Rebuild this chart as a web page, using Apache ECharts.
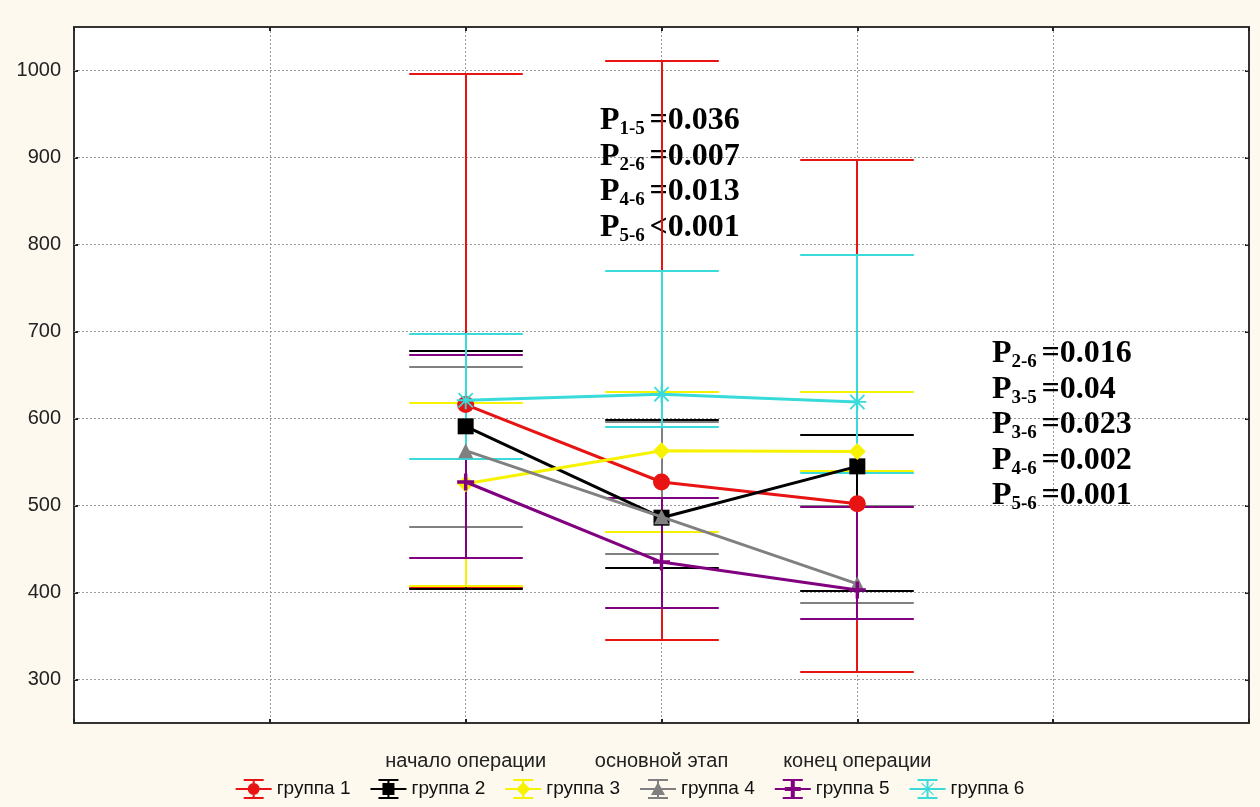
<!DOCTYPE html>
<html>
<head>
<meta charset="utf-8">
<style>
  html, body { margin: 0; padding: 0; background: #fdf9ee; }
  #chart { width: 1260px; height: 807px; }
</style>
<script src="https://cdn.jsdelivr.net/npm/echarts@6/dist/echarts.min.js"></script>
</head>
<body>
<div id="chart"></div>
<script>
// Stages of the operation (x positions 1..3) and groups
const stages = ['начало операции', 'основной этап', 'конец операции'];
const stageX = [1, 2, 3];
const groups = ['группа 1', 'группа 2', 'группа 3', 'группа 4', 'группа 5', 'группа 6'];
const yTicks = [300, 400, 500, 600, 700, 800, 900, 1000];

// Central values per group
const mean1 = [616, 527, 502];
const mean2 = [591, 486, 545];
const mean3 = [525, 563, 562];
const mean4 = [563, 487, 410];
const mean5 = [527, 435, 403];
const mean6 = [621, 628, 619];

// Upper whisker per group
const high1 = [996, 1011, 897];
const high2 = [678, 598, 581];
const high3 = [618, 630, 630];
const high4 = [659, 596, 499];
const high5 = [673, 509, 498];
const high6 = [697, 770, 788];

// Lower whisker per group
const low1 = [405, 345, 309];
const low2 = [404, 428, 402];
const low3 = [407, 470, 540];
const low4 = [475, 444, 388];
const low5 = [440, 382, 370];
const low6 = [553, 590, 537];

// Significance notes
const notesMid = [['1-5', '=0.036'], ['2-6', '=0.007'], ['4-6', '=0.013'], ['5-6', '<0.001']];
const notesEnd = [['2-6', '=0.016'], ['3-5', '=0.04'], ['3-6', '=0.023'], ['4-6', '=0.002'], ['5-6', '=0.001']];

const means = [mean1, mean2, mean3, mean4, mean5, mean6];
const highs = [high1, high2, high3, high4, high5, high6];
const lows = [low1, low2, low3, low4, low5, low6];
const colors = ['#e81414', '#000000', '#f6f200', '#808080', '#800080', '#38dada'];

const plusPath = 'path://M4,0H6V4H10V6H6V10H4V6H0V4H4Z';
const starPath = 'path://M9,0H11V20H9Z M0,9H20V11H0Z M1.4,2.8L2.8,1.4L18.6,17.2L17.2,18.6Z M17.2,1.4L18.6,2.8L2.8,18.6L1.4,17.2Z';
const symbols = ['circle', 'rect', 'diamond', 'triangle', plusPath, starPath];
const symbolSizes = [17, 16, 17, 15, 17, 18];

// legend glyphs: mean line, whisker with caps, and the group marker (36 x 20 box)
const iconBase = 'M0,9H36V11H0Z M8,0H28V2H8Z M8,18H28V20H8Z M17,0H19V20H17Z ';
const legendIcons = [
  'path://' + iconBase + 'M12,10A6,6 0 1,1 24,10A6,6 0 1,1 12,10Z',
  'path://' + iconBase + 'M12,4H24V16H12Z',
  'path://' + iconBase + 'M18,3L25,10L18,17L11,10Z',
  'path://' + iconBase + 'M18,3L25,16L11,16Z',
  'path://' + iconBase + 'M16,1H20V19H16Z M10,8H26V12H10Z',
  'path://' + iconBase + 'M11.7,4.5L12.5,3.7L24.3,15.5L23.5,16.3Z M23.5,3.7L24.3,4.5L12.5,16.3L11.7,15.5Z'
];

const FONT = '"Liberation Sans", Arial, sans-serif';

function errorBarItem(color) {
  return function (params, api) {
    const x = api.value(0);
    const pLo = api.coord([x, api.value(1)]);
    const pHi = api.coord([x, api.value(2)]);
    const cx = Math.round(pLo[0]);
    const yLo = Math.round(pLo[1]);
    const yHi = Math.round(pHi[1]);
    const hw = api.size([0.29, 0])[0];
    const st = { stroke: color, lineWidth: 2 };
    return {
      type: 'group',
      children: [
        { type: 'line', shape: { x1: cx, y1: yLo, x2: cx, y2: yHi }, style: { stroke: color, lineWidth: 2 } },
        { type: 'line', shape: { x1: cx - hw, y1: yHi, x2: cx + hw, y2: yHi }, style: st },
        { type: 'line', shape: { x1: cx - hw, y1: yLo, x2: cx + hw, y2: yLo }, style: st }
      ]
    };
  };
}

const series = [];

// dotted horizontal grid
series.push({
  type: 'custom',
  name: 'grid',
  silent: true,
  z: 1,
  data: yTicks.map(v => [0, v]),
  renderItem: function (params, api) {
    const v = api.value(1);
    const a = api.coord([-1, v]);
    const b = api.coord([5, v]);
    return { type: 'line', shape: { x1: a[0], y1: a[1], x2: b[0], y2: b[1] },
      style: { stroke: '#9a9a9a', lineWidth: 1, lineDash: [2, 2] } };
  }
});

groups.forEach((g, k) => {
  series.push({
    type: 'custom',
    name: g + ' ',
    z: 3,
    silent: true,
    data: stageX.map((x, i) => [x, lows[k][i], highs[k][i]]),
    encode: { x: 0, y: [1, 2] },
    renderItem: errorBarItem(colors[k])
  });
});

groups.forEach((g, k) => {
  series.push({
    type: 'line',
    name: g,
    z: 4 + k,
    data: stageX.map((x, i) => [x, means[k][i]]),
    symbol: symbols[k],
    symbolSize: symbolSizes[k],
    showAllSymbol: true,
    lineStyle: { color: colors[k], width: 3 },
    itemStyle: { color: colors[k] }
  });
});

function noteText(rows) {
  return rows.map(r => '{p|P}{s|' + r[0] + ' }{p|' + r[1] + '}').join('\n');
}
const rich = {
  p: { fontFamily: '"Liberation Serif", "Times New Roman", serif', fontWeight: 'bold', fontSize: 32, lineHeight: 35.5, fill: '#000' },
  s: { fontFamily: '"Liberation Serif", "Times New Roman", serif', fontWeight: 'bold', fontSize: 19, lineHeight: 17, verticalAlign: 'bottom', fill: '#000' }
};

const option = {
  backgroundColor: '#fdf9ee',
  animation: false,
  grid: { left: 74, top: 27, right: 11, bottom: 84, show: true, backgroundColor: '#ffffff', borderColor: '#333', borderWidth: 2 },
  xAxis: [
    {
      type: 'value', min: -1, max: 5, interval: 1, position: 'bottom',
      axisLine: { show: true, onZero: false, lineStyle: { color: '#333', width: 2 } },
      axisTick: { show: true, inside: true, length: 4, lineStyle: { color: '#222', width: 2 } },
      axisLabel: { formatter: v => stages[v - 1] || '', fontSize: 20, color: '#222', margin: 28, fontFamily: FONT },
      splitLine: { show: true, lineStyle: { color: '#9a9a9a', width: 1, type: [2, 2] } }
    },
    {
      type: 'value', min: -1, max: 5, interval: 1, position: 'top',
      axisLine: { show: true, onZero: false, lineStyle: { color: '#333', width: 2 } },
      axisTick: { show: true, inside: true, length: 4, lineStyle: { color: '#222', width: 2 } },
      axisLabel: { show: false },
      splitLine: { show: false }
    }
  ],
  yAxis: [
    {
      type: 'value', min: 250, max: 1050, position: 'left',
      axisLine: { show: true, onZero: false, lineStyle: { color: '#333', width: 2 } },
      axisTick: { show: true, inside: true, length: 4, customValues: yTicks, lineStyle: { color: '#222', width: 2 } },
      axisLabel: { customValues: yTicks, formatter: v => String(v), fontSize: 20, color: '#222', margin: 13, fontFamily: FONT },
      splitLine: { show: false }
    },
    {
      type: 'value', min: 250, max: 1050, position: 'right',
      axisLine: { show: true, onZero: false, lineStyle: { color: '#333', width: 2 } },
      axisTick: { show: true, inside: true, length: 4, customValues: yTicks, lineStyle: { color: '#222', width: 2 } },
      axisLabel: { show: false },
      splitLine: { show: false }
    }
  ],
  legend: {
    data: groups.map((g, k) => ({ name: g, icon: legendIcons[k] })),
    left: 'center',
    top: 774,
    itemWidth: 36,
    itemHeight: 20,
    itemGap: 20,
    textStyle: { fontSize: 19, color: '#111', fontFamily: FONT }
  },
  graphic: [
    { type: 'text', z: 2, left: 600, top: 105, style: { text: noteText(notesMid), rich: rich, fill: '#000' } },
    { type: 'text', z: 2, left: 992, top: 338, style: { text: noteText(notesEnd), rich: rich, fill: '#000' } }
  ],
  series: series
};

const chart = echarts.init(document.getElementById('chart'), null, { renderer: 'canvas' });
chart.setOption(option);
</script>
</body>
</html>
